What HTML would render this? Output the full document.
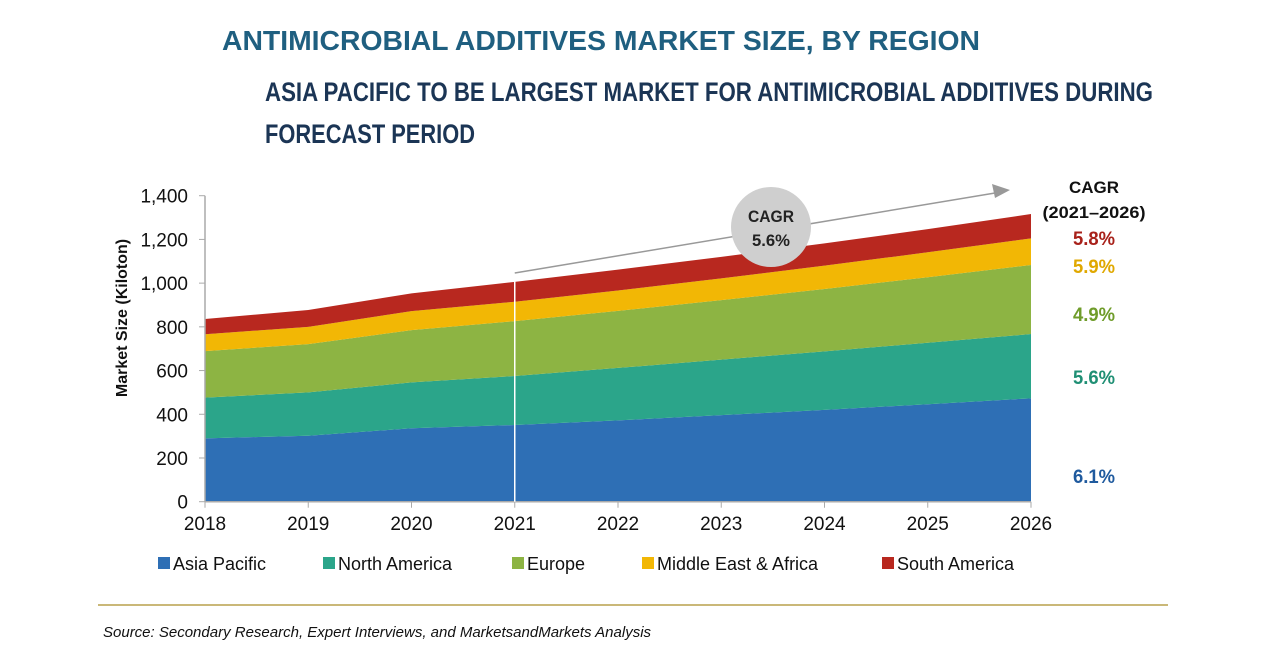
<!DOCTYPE html>
<html><head><meta charset="utf-8"><style>
body{margin:0;background:#fff;width:1280px;height:670px;overflow:hidden;font-family:"Liberation Sans",sans-serif}
</style></head><body>
<svg id="chart" width="1280" height="670" style="position:absolute;left:0;top:0"></svg>
<script>
const years=["2018","2019","2020","2021","2022","2023","2024","2025","2026"];
const asiaPacific=[290,302,336,351,372,396,420,446,473];
const northAmerica=[186,198,210,224,240,254,268,281,294];
const europe=[213,221,239,251,261,272,285,300,316];
const middleEastAfrica=[77,79,87,89,93,100,107,114,122];
const southAmerica=[70,77,81,91,96,98,102,106,111];
const seriesNames=["Asia Pacific","North America","Europe","Middle East & Africa","South America"];
const cagrLabels=["6.1%","5.6%","4.9%","5.9%","5.8%"];
const yTicks=[0,200,400,600,800,1000,1200,1400];
const colors=["#2e6fb5","#2ba58a","#8db443","#f2b705","#b8281f"];
const cagrColors=["#1f5a9e","#1f8f74","#6f9c2a","#e0a800","#a8211a"];
const cagrY=[483,384,321,273,245];
const NS="http://www.w3.org/2000/svg";
const svg=document.getElementById('chart');
const x0=205,x1=1031,y0=501.7,yTop=195.7;
const xs=i=>x0+(x1-x0)*i/(years.length-1);
const ys=v=>y0-(y0-yTop)*v/1400;
function mk(t,a){const e=document.createElementNS(NS,t);for(const k in a)e.setAttribute(k,a[k]);svg.appendChild(e);return e;}
const tt=mk('text',{x:222,y:50,'font-size':28,'font-weight':'bold',fill:'#1f5f80',textLength:758,lengthAdjust:'spacingAndGlyphs'});
tt.textContent='ANTIMICROBIAL ADDITIVES MARKET SIZE, BY REGION';

const st1=mk('text',{x:265,y:101,'font-size':27,'font-weight':'bold',fill:'#1b3555',textLength:888,lengthAdjust:'spacingAndGlyphs'});
st1.textContent='ASIA PACIFIC TO BE LARGEST MARKET FOR ANTIMICROBIAL ADDITIVES DURING';

const st2=mk('text',{x:265,y:143,'font-size':27,'font-weight':'bold',fill:'#1b3555',textLength:210,lengthAdjust:'spacingAndGlyphs'});
st2.textContent='FORECAST PERIOD';

const all=[asiaPacific,northAmerica,europe,middleEastAfrica,southAmerica];
let base=years.map(()=>0);
all.forEach((s,si)=>{
  const top=base.map((b,i)=>b+s[i]);
  let d="M"+years.map((_,i)=>xs(i)+","+ys(top[i])).join(" L");
  for(let i=years.length-1;i>=0;i--)d+=" L"+xs(i)+","+ys(base[i]);
  const p=mk('path',{d:d+"Z",fill:colors[si]});
  
  
  const lab=mk('text',{x:1073,y:cagrY[si],'font-size':19,'font-weight':'bold',fill:cagrColors[si],textLength:42,lengthAdjust:'spacingAndGlyphs'});
  lab.textContent=cagrLabels[si];
  
  
  base=top;
});
const ya=mk('line',{x1:x0,y1:yTop,x2:x0,y2:y0,stroke:'#aaa','stroke-width':1.5});

const xa=mk('line',{x1:x0,y1:y0,x2:x1,y2:y0,stroke:'#aaa','stroke-width':1.5});

yTicks.forEach(v=>{
  mk('line',{x1:x0-6,y1:ys(v),x2:x0,y2:ys(v),stroke:'#aaa'});
  const t=mk('text',{x:188,y:ys(v)+7,'font-size':19,'text-anchor':'end',fill:'#111'});
  t.textContent=v.toLocaleString('en-US');
  
});
years.forEach((y,i)=>{
  mk('line',{x1:xs(i),y1:y0,x2:xs(i),y2:y0+6,stroke:'#aaa'});
  const t=mk('text',{x:xs(i),y:530,'font-size':19,'text-anchor':'middle',fill:'#111'});
  t.textContent=y;
  
});
const yt=mk('text',{x:0,y:0,'font-size':16,'font-weight':'bold','text-anchor':'middle',transform:'translate(127,318) rotate(-90)',fill:'#111'});
yt.textContent='Market Size (Kiloton)';
mk('line',{x1:xs(3),y1:280,x2:xs(3),y2:y0,stroke:'#fff','stroke-width':1.5});
mk('line',{x1:xs(3),y1:273,x2:995,y2:193,stroke:'#999','stroke-width':1.5});
mk('path',{d:'M1010,190 L992,184 L995,198 Z',fill:'#999'});
const c=mk('circle',{cx:771,cy:227,r:40,fill:'#cfcfcf'});

[['CAGR',222,46],['5.6%',246,38]].forEach(a=>{const t=mk('text',{x:748+(46-a[2])/2,y:a[1],'font-size':17,'font-weight':'bold',fill:'#222',textLength:a[2],lengthAdjust:'spacingAndGlyphs'});t.textContent=a[0];});
[['CAGR',193,50],['(2021–2026)',218,103]].forEach(a=>{const t=mk('text',{x:1094-a[2]/2,y:a[1],'font-size':17,'font-weight':'bold',fill:'#111',textLength:a[2],lengthAdjust:'spacingAndGlyphs'});t.textContent=a[0];
});
const lx=[158,323,512,642,882];
seriesNames.forEach((n,i)=>{
  mk('rect',{x:lx[i],y:557,width:12,height:12,fill:colors[i]});
  const t=mk('text',{x:lx[i]+15,y:570,'font-size':18,fill:'#111'});
  t.textContent=n;
  
});
mk('line',{x1:98,y1:605,x2:1168,y2:605,stroke:'#b9a04c','stroke-width':1.5});
const s=mk('text',{x:103,y:637,'font-size':15,'font-style':'italic',fill:'#111'});
s.textContent='Source: Secondary Research, Expert Interviews, and MarketsandMarkets Analysis';

</script>
</body></html>
